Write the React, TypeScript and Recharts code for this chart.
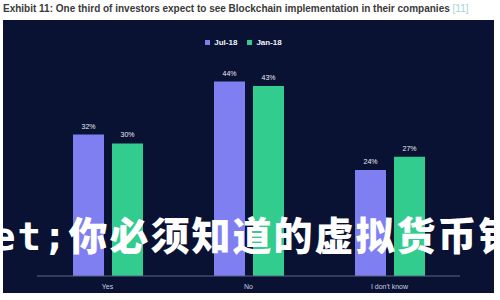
import React from "react";
import { Bar, BarChart, LabelList, Legend, XAxis, YAxis } from "recharts";

const categories = ["Yes", "No", "I don't know"];
const jul18 = [32, 44, 24];
const jan18 = [30, 43, 27];
const seriesOrder = ["Jul-18", "Jan-18"];

const PURPLE = "#7f7ff2";
const GREEN = "#33cc8f";
const PANEL = "#0a1233";

const data = categories.map((name, i) => ({ name, jul18: jul18[i], jan18: jan18[i] }));

const pct = (v: unknown) => `${v}%`;

export default function App() {
  return (
    <div
      style={{
        position: "fixed",
        left: 0,
        top: 0,
        width: 500,
        height: 300,
        background: "#ffffff",
        overflow: "hidden",
        fontFamily: "'Liberation Sans', Arial, sans-serif",
      }}
    >
      <div
        style={{
          position: "absolute",
          left: 3,
          top: 3,
          fontSize: 10,
          fontWeight: 700,
          color: "#3a3a3a",
          whiteSpace: "nowrap",
        }}
      >
        Exhibit 11: One third of investors expect to see Blockchain implementation in their companies{" "}
        <span style={{ color: "#9fd6cf", fontWeight: 400 }}>[11]</span>
      </div>
      <div
        style={{
          position: "absolute",
          left: 3,
          top: 20,
          width: 491,
          height: 273,
          background: PANEL,
        }}
      />
      <div style={{ position: "absolute", left: 0, top: 0 }}>
        <BarChart
          width={500}
          height={300}
          data={data}
          margin={{ top: 46, right: 40, bottom: 0, left: 37 }}
          barSize={31}
          barGap={8}
        >
          <Legend
            verticalAlign="top"
            align="center"
            iconType="square"
            iconSize={5}
            itemSorter={(item: { value?: string }) => seriesOrder.indexOf(String(item.value))}
            wrapperStyle={{ top: 38, fontSize: 8, fontWeight: 700, color: "#ffffff" }}
            formatter={(value) => <span style={{ color: "#f0f2fa" }}>{value}</span>}
          />
          <XAxis
            dataKey="name"
            axisLine={{ stroke: "#5d6485" }}
            tickLine={false}
            tick={{ fill: "#c9cde0", fontSize: 7 }}
            height={24}
          />
          <YAxis hide domain={[0, 50]} />
          <Bar dataKey="jul18" name="Jul-18" fill={PURPLE} isAnimationActive={false}>
            <LabelList dataKey="jul18" position="top" offset={6} fill="#e8ebf5" fontSize={7} formatter={pct} />
          </Bar>
          <Bar dataKey="jan18" name="Jan-18" fill={GREEN} isAnimationActive={false}>
            <LabelList dataKey="jan18" position="top" offset={6} fill="#e8ebf5" fontSize={7} formatter={pct} />
          </Bar>
        </BarChart>
      </div>
      <div
        style={{
          position: "absolute",
          left: -8,
          top: 212,
          fontSize: 39,
          fontWeight: 900,
          color: "#ffffff",
          whiteSpace: "nowrap",
          fontFamily: "'DejaVu Sans Mono', 'Noto Sans CJK SC', monospace",
          letterSpacing: 2,
          lineHeight: "50px",
        }}
      >
        et;你必须知道的虚拟货币钱
      </div>
    </div>
  );
}
